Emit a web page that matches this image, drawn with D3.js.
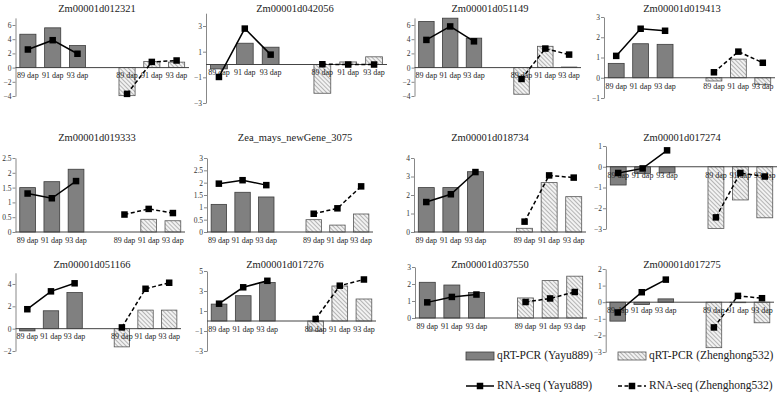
<!DOCTYPE html>
<html><head><meta charset="utf-8">
<script src="https://cdn.jsdelivr.net/npm/d3@7"></script>
<style>
body{margin:0;background:#fff;}
svg{display:block;font-family:"Liberation Serif","Times New Roman",serif;}
</style></head>
<body><svg id="chart" width="778" height="412"></svg>
<script>
const genes = ["Zm00001d012321","Zm00001d042056","Zm00001d051149","Zm00001d019413",
  "Zm00001d019333","Zea_mays_newGene_3075","Zm00001d018734","Zm00001d017274",
  "Zm00001d051166","Zm00001d017276","Zm00001d037550","Zm00001d017275"];
const categories = ["89 dap","91 dap","93 dap"];
const qpcrYayu = [[4.7,5.6,3.1],[-0.34,1.66,1.35],[6.5,6.96,4.15],[0.71,1.68,1.65],
  [1.5,1.7,2.12],[1.12,1.61,1.42],[2.4,2.4,3.26],[-0.88,-0.32,-0.3],
  [-0.2,1.6,3.23],[1.69,2.53,3.85],[2.1,1.94,1.5],[-1.14,-0.14,0.2]];
const rnaYayu = [[2.55,3.86,1.95],[-0.97,2.8,0.77],[3.9,5.8,3.7],[1.08,2.42,2.32],
  [1.3,1.14,1.72],[1.96,2.1,1.9],[1.62,2.04,3.24],[-0.3,-0.08,0.79],
  [1.74,3.34,4.06],[1.73,3.37,4.02],[0.92,1.24,1.38],[-0.62,0.6,1.36]];
const qpcrZheng = [[-3.95,0.86,0.77],[-2.24,0.2,0.6],[-3.75,3.0,0.08],[-0.16,0.92,-0.34],
  [0,0.43,0.38],[0.5,0.28,0.73],[0.2,2.67,1.91],[-2.97,-1.6,-2.46],
  [-1.63,1.66,1.66],[-1.0,3.5,2.2],[1.18,2.2,2.46],[-2.74,-0.03,-1.24]];
const rnaZheng = [[-3.7,0.8,1.0],[0.02,0.0,0.0],[-1.6,2.68,1.83],[0.27,1.29,0.74],
  [0.59,0.78,0.64],[0.74,0.96,1.85],[0.56,3.06,2.94],[-2.44,-0.3,-0.47],
  [0.11,3.57,4.11],[0.2,3.53,4.15],[0.94,1.15,1.53],[-1.52,0.38,0.24]];
const yDomains = [[-4,7],[-3,4],[-4,7],[-1,3],[0,2.5],[0,3],[0,4],[-3,1],[-2,5],[-3,5],[0,3],[-3,2]];
const yTickValues = [[-4,-2,0,2,4,6],[-3,-1,1,3],[-4,-2,0,2,4,6],[-1,0,1,2,3],
  [0,0.5,1,1.5,2,2.5],[0,0.5,1,1.5,2,2.5,3],[0,1,2,3,4],[-3,-2,-1,0,1],
  [-2,0,2,4],[-3,-1,1,3,5],[0,1,2,3],[-3,-2,-1,0,1,2]];
const legendLabels = ["qRT-PCR (Yayu889)","RNA-seq (Yayu889)","qRT-PCR (Zhenghong532)","RNA-seq (Zhenghong532)"];

// layout: plot boxes [x0, x1, yTop, yBottom] and title positions
const boxes = [[15.5,189,17.9,96],[206,387,13.2,103],[414.5,581,17.9,96],[604,775,17,98],
  [15.5,185,158,232],[207,373,158,232],[414,586,158,232],[606,777,146,229],
  [15.5,181,272.8,351],[207,376,271,351],[415,587,267,318],[605.7,774,269,352]];
const titlePos = [[97,10],[295,10],[490,10],[682,10],[97,139],[295,139],[490,139],[682,139],
  [92,266],[285,266],[490,266],[682,266]];

const svg = d3.select("#chart");
const defs = svg.append("defs");
const pat = defs.append("pattern").attr("id","hatch").attr("patternUnits","userSpaceOnUse")
  .attr("width",3).attr("height",3).attr("patternTransform","rotate(-45)");
pat.append("rect").attr("width",3).attr("height",3).attr("fill","#f2f2f2");
pat.append("line").attr("x1",0).attr("y1",0).attr("x2",0).attr("y2",3)
  .attr("stroke","#8a8a8a").attr("stroke-width",1.2);

const slots = ["y0","y1","y2","gap","z0","z1","z2"];

genes.forEach((g,i)=>{
  const [x0,x1,yT,yB] = boxes[i];
  const x = d3.scaleBand().domain(slots).range([x0,x1]).paddingInner(0.35).paddingOuter(0.175);
  const y = d3.scaleLinear().domain(yDomains[i]).range([yB,yT]);
  const gp = svg.append("g");
  gp.append("text").attr("x",titlePos[i][0]).attr("y",titlePos[i][1]).attr("text-anchor","middle")
    .attr("dominant-baseline","middle").attr("font-size",10.5).attr("fill","#222").text(g);
  const ax = d3.axisLeft(y).tickValues(yTickValues[i]).tickSize(3).tickSizeOuter(0)
    .tickFormat(d3.format("~g"));
  const ag = gp.append("g").attr("transform",`translate(${x0},0)`).call(ax);
  ag.select(".domain").attr("stroke","#888");
  ag.selectAll(".tick line").attr("stroke","#888");
  ag.selectAll(".tick text").attr("font-size",7.5).attr("fill","#333").attr("font-family","Liberation Serif").attr("x",-4);
  const yq = qpcrYayu[i].map((v,k)=>({s:"y"+k,v}));
  const zq = qpcrZheng[i].map((v,k)=>({s:"z"+k,v}));
  gp.selectAll(".by").data(yq).join("rect")
    .attr("x",d=>x(d.s)).attr("width",x.bandwidth())
    .attr("y",d=>y(Math.max(0,d.v))).attr("height",d=>Math.abs(y(d.v)-y(0)))
    .attr("fill","#808080").attr("stroke","#3c3c3c").attr("stroke-width",0.8);
  gp.selectAll(".bz").data(zq).join("rect")
    .attr("x",d=>x(d.s)).attr("width",x.bandwidth())
    .attr("y",d=>y(Math.max(0,d.v))).attr("height",d=>Math.abs(y(d.v)-y(0)))
    .attr("fill","url(#hatch)").attr("stroke","#555").attr("stroke-width",0.8);
  gp.append("line").attr("x1",x0).attr("x2",x1).attr("y1",y(0)).attr("y2",y(0))
    .attr("stroke","#444").attr("stroke-width",1);
  slots.filter(s=>s!=="gap").forEach((s,k)=>{
    gp.append("text").attr("x",x(s)+x.bandwidth()/2).attr("y",y(0)+9)
      .attr("text-anchor","middle").attr("dominant-baseline","middle")
      .attr("font-size",8).attr("fill","#222").text(categories[k%3]);
  });
  const line = d3.line().x(d=>x(d.s)+x.bandwidth()/2).y(d=>y(d.v));
  const yr = rnaYayu[i].map((v,k)=>({s:"y"+k,v}));
  const zr = rnaZheng[i].map((v,k)=>({s:"z"+k,v}));
  gp.append("path").datum(yr).attr("d",line).attr("fill","none").attr("stroke","#000").attr("stroke-width",1.5);
  gp.append("path").datum(zr).attr("d",line).attr("fill","none").attr("stroke","#000").attr("stroke-width",1.5).attr("stroke-dasharray","4,2.5");
  gp.selectAll(".m").data(yr.concat(zr)).join("rect")
    .attr("x",d=>x(d.s)+x.bandwidth()/2-3.25).attr("y",d=>y(d.v)-3.25)
    .attr("width",6.5).attr("height",6.5).attr("fill","#000");
});

// legend
const lg = svg.append("g").attr("font-size",11.5).attr("fill","#222");
const legX = [466,618], legY = [356,386], swW = 28;
[0,1].forEach(c=>{
  const sx = legX[c];
  lg.append("rect").attr("x",sx).attr("y",legY[0]-4).attr("width",swW).attr("height",8)
    .attr("fill", c===0 ? "#808080" : "url(#hatch)").attr("stroke", c===0 ? "#3c3c3c" : "#555").attr("stroke-width",0.8);
  lg.append("text").attr("x",sx+swW+3).attr("y",legY[0]).attr("dominant-baseline","middle").text(legendLabels[c*2]);
  lg.append("line").attr("x1",sx).attr("x2",sx+swW).attr("y1",legY[1]).attr("y2",legY[1])
    .attr("stroke","#000").attr("stroke-width",1.5).attr("stroke-dasharray", c===0 ? null : "4,2.5");
  lg.append("rect").attr("x",sx+swW/2-3.25).attr("y",legY[1]-3.25).attr("width",6.5).attr("height",6.5).attr("fill","#000");
  lg.append("text").attr("x",sx+swW+3).attr("y",legY[1]).attr("dominant-baseline","middle").text(legendLabels[c*2+1]);
});
</script></body></html>
